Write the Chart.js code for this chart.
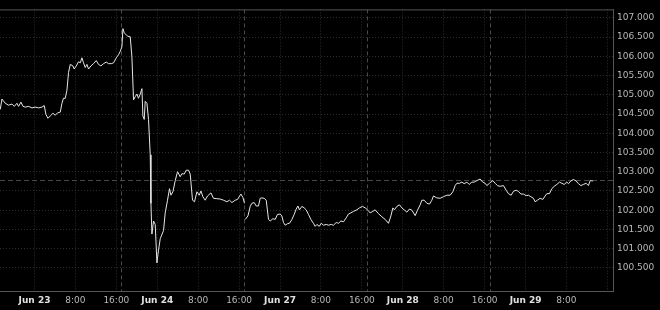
<!DOCTYPE html>
<html>
<head>
<meta charset="utf-8">
<script src="https://cdn.jsdelivr.net/npm/chart.js@4/dist/chart.umd.min.js"></script>
<style>
  html, body { margin: 0; padding: 0; background: #000; }
  canvas { display: block; }
</style>
</head>
<body>
<canvas id="c" width="660" height="310"></canvas>
<script>
// Trading-hour timeline: hours since Jun 22 00:00 with the weekend (Fri 17:00 - Sun 17:00) removed
const hours = [
  17.3,17.63,18.28,18.92,19.59,20.04,20.56,20.88,21.35,21.74,22.19,22.83,23.5,24.14,24.79,25.45,25.9,
  26.23,26.62,27.07,27.6,28.05,28.5,29.03,29.36,29.67,30.01,30.34,30.65,30.98,31.51,31.76,32.16,32.61,
  32.94,33.27,33.58,33.91,34.25,34.56,35.03,35.54,36.07,36.51,36.98,37.49,38.02,38.47,39.0,39.45,39.97,
  40.42,40.76,41.09,41.28,41.54,41.93,42.26,42.71,43.04,43.36,43.69,44.02,44.33,44.67,45.0,45.19,45.45,
  45.64,45.98,46.29,46.62,46.76,46.95,47.27,47.6,47.93,48.24,48.58,49.22,49.55,50.0,50.39,50.67,51.06,
  51.51,51.96,52.48,52.82,53.27,53.66,54.11,54.44,54.89,55.28,55.75,56.2,56.53,56.92,57.37,57.82,58.49,
  58.99,59.66,60.3,60.95,61.61,62.12,62.59,63.24,63.68,64.35,64.74,65.05,65.12,
  65.19,65.72,66.17,66.5,66.95,67.34,67.79,68.12,68.45,68.9,69.3,69.75,70.08,70.61,71.05,71.5,72.03,
  72.36,72.68,73.01,73.46,73.85,74.32,74.77,75.16,75.49,75.8,76.27,76.72,77.11,77.56,78.03,78.54,78.87,
  79.21,79.66,80.05,80.5,81.02,81.47,82.0,82.45,82.98,83.43,83.9,84.41,84.93,85.38,85.85,86.36,87.02,
  87.53,88.12,88.65,89.17,89.62,90.15,90.6,91.25,91.91,92.56,93.2,93.67,94.06,94.37,94.84,95.35,95.82,
  96.27,96.8,97.31,97.78,98.42,98.87,99.4,99.73,100.18,100.71,101.22,101.68,102.0,102.66,103.31,103.95,
  104.62,105.26,105.79,106.24,106.57,107.08,107.55,108.0,108.53,108.98,109.5,109.95,110.48,111.13,
  111.65,112.1,112.44,112.94,113.61,114.06,114.51,115.04,115.68,116.21,116.66,117.19,117.63,118.16,
  118.61,119.08,119.59,120.12,120.57,121.04,121.55,121.88,122.33,122.85,123.38,123.83,124.16,124.67,
  125.14,125.59,126.12,126.63,127.1,127.55,128.07,128.39,128.86,129.36,129.89,130.34,130.81,131.32,
  131.85,132.3,132.63,133.16
];
const prices = [
  104.62,104.89,104.78,104.73,104.76,104.70,104.78,104.70,104.81,104.70,104.68,104.70,104.66,104.68,104.66,104.68,104.72,
  104.49,104.39,104.45,104.52,104.47,104.53,104.55,104.78,104.91,104.91,105.12,105.58,105.79,105.75,105.67,105.75,105.86,
  105.83,105.96,105.83,105.71,105.79,105.67,105.75,105.81,105.89,105.79,105.75,105.81,105.85,105.81,105.81,105.83,105.96,
  106.04,106.13,106.25,106.72,106.61,106.56,106.52,106.51,105.98,104.87,104.95,105.02,104.91,105.02,105.16,104.45,104.36,
  104.83,104.78,104.36,103.44,102.18,101.38,101.72,101.63,100.63,100.96,101.26,101.47,101.93,102.26,102.56,102.39,102.48,
  102.77,103.00,102.87,102.95,102.94,103.04,103.04,102.94,102.26,102.22,102.48,102.39,102.50,102.35,102.26,102.37,102.45,
  102.31,102.30,102.29,102.26,102.22,102.26,102.20,102.26,102.28,102.42,102.33,102.18,null,
  101.76,101.85,102.10,102.18,102.20,102.11,102.11,102.31,102.32,102.31,102.26,101.76,101.72,101.78,101.76,101.89,101.90,
  101.85,101.68,101.61,101.65,101.66,101.76,101.89,102.03,102.11,102.01,102.10,102.06,102.01,101.89,101.76,101.66,101.58,
  101.63,101.58,101.66,101.61,101.63,101.61,101.63,101.61,101.68,101.66,101.72,101.70,101.80,101.90,101.93,101.97,102.01,
  102.06,102.10,102.06,102.00,101.93,101.97,102.01,101.91,101.83,101.76,101.66,101.85,102.06,102.01,102.10,102.14,102.06,
  102.01,101.95,102.03,102.00,101.86,102.00,102.14,102.26,102.26,102.18,102.16,102.26,102.37,102.32,102.31,102.35,
  102.39,102.39,102.48,102.64,102.70,102.70,102.73,102.69,102.73,102.67,102.73,102.73,102.77,102.81,
  102.73,102.70,102.64,102.70,102.77,102.70,102.64,102.62,102.64,102.52,102.43,102.39,102.49,102.52,
  102.49,102.42,102.42,102.38,102.39,102.35,102.31,102.22,102.26,102.31,102.28,102.37,102.43,102.43,
  102.56,102.62,102.67,102.73,102.70,102.67,102.73,102.69,102.76,102.80,102.76,102.69,102.64,102.67,
  102.70,102.64,102.77,102.76
];
const xTickHours = [24,32,40,48,56,64,72,80,88,96,104,112,120,128,136];
const xTickLabels = ['Jun 23','8:00','16:00','Jun 24','8:00','16:00','Jun 27','8:00','16:00','Jun 28','8:00','16:00','Jun 29','8:00',''];
const yTicks = [100.5,101,101.5,102,102.5,103,103.5,104,104.5,105,105.5,106,106.5,107];
const sessionBreaks = [41,65,89,113];
const lastPrice = 102.79;

const FONT = "'DejaVu Sans', sans-serif";

const overlay = {
  id: 'overlay',
  beforeDatasetsDraw(chart) {
    const {ctx, chartArea: a, scales: {x, y}} = chart;
    ctx.save();
    ctx.lineWidth = 1;
    ctx.strokeStyle = '#4a4a4a';
    ctx.setLineDash([4, 3]);
    sessionBreaks.forEach(h => {
      const px = Math.round(x.getPixelForValue(h)) + 0.5;
      ctx.beginPath(); ctx.moveTo(px, a.top); ctx.lineTo(px, a.bottom); ctx.stroke();
    });
    const py = Math.round(y.getPixelForValue(lastPrice)) + 0.5;
    ctx.strokeStyle = '#4a4a4a';
    ctx.setLineDash([5, 3]);
    ctx.beginPath(); ctx.moveTo(a.left, py); ctx.lineTo(a.right, py); ctx.stroke();
    ctx.setLineDash([]);
    ctx.strokeStyle = '#555';
    ctx.beginPath(); ctx.moveTo(a.left, a.top + 0.5); ctx.lineTo(a.right, a.top + 0.5); ctx.stroke();
    ctx.restore();
  }
};

new Chart(document.getElementById('c'), {
  type: 'line',
  data: {
    datasets: [{
      data: hours.map((h, i) => ({x: h, y: prices[i]})),
      borderColor: '#e6e6e6',
      borderWidth: 1,
      pointRadius: 0,
      tension: 0,
      spanGaps: false
    }]
  },
  options: {
    responsive: false,
    animation: false,
    devicePixelRatio: 1,
    layout: {padding: 0},
    plugins: {legend: {display: false}, tooltip: {enabled: false}},
    scales: {
      x: {
        type: 'linear',
        min: 17.25,
        max: 137.1,
        afterBuildTicks: s => { s.ticks = xTickHours.map(v => ({value: v})); },
        afterFit: s => { s.height = 19; },
        grid: {color: '#2e2e2e', drawTicks: false},
        border: {color: '#555', width: 1, dash: [1, 2]},
        ticks: {
          autoSkip: false, maxRotation: 0, padding: 4,
          callback: (v, i) => xTickLabels[i],
          color: ctx => xTickLabels[ctx.index] && xTickLabels[ctx.index].startsWith('Jun') ? '#e0e0e0' : '#b8b8b8',
          font: ctx => ({family: FONT, size: 9, weight: (xTickLabels[ctx.index] || '').startsWith('Jun') ? 'bold' : 'normal'})
        }
      },
      y: {
        position: 'right',
        min: 99.9,
        max: 107.22,
        afterBuildTicks: s => { s.ticks = yTicks.map(v => ({value: v})); },
        afterFit: s => { s.width = 47; },
        grid: {color: '#2e2e2e', drawTicks: false},
        border: {color: '#555', width: 1, dash: [1, 2]},
        ticks: {
          padding: 4,
          callback: v => Number(v).toFixed(3),
          color: '#b8b8b8',
          font: {family: FONT, size: 9}
        }
      }
    }
  },
  plugins: [overlay]
});
</script>
</body>
</html>
